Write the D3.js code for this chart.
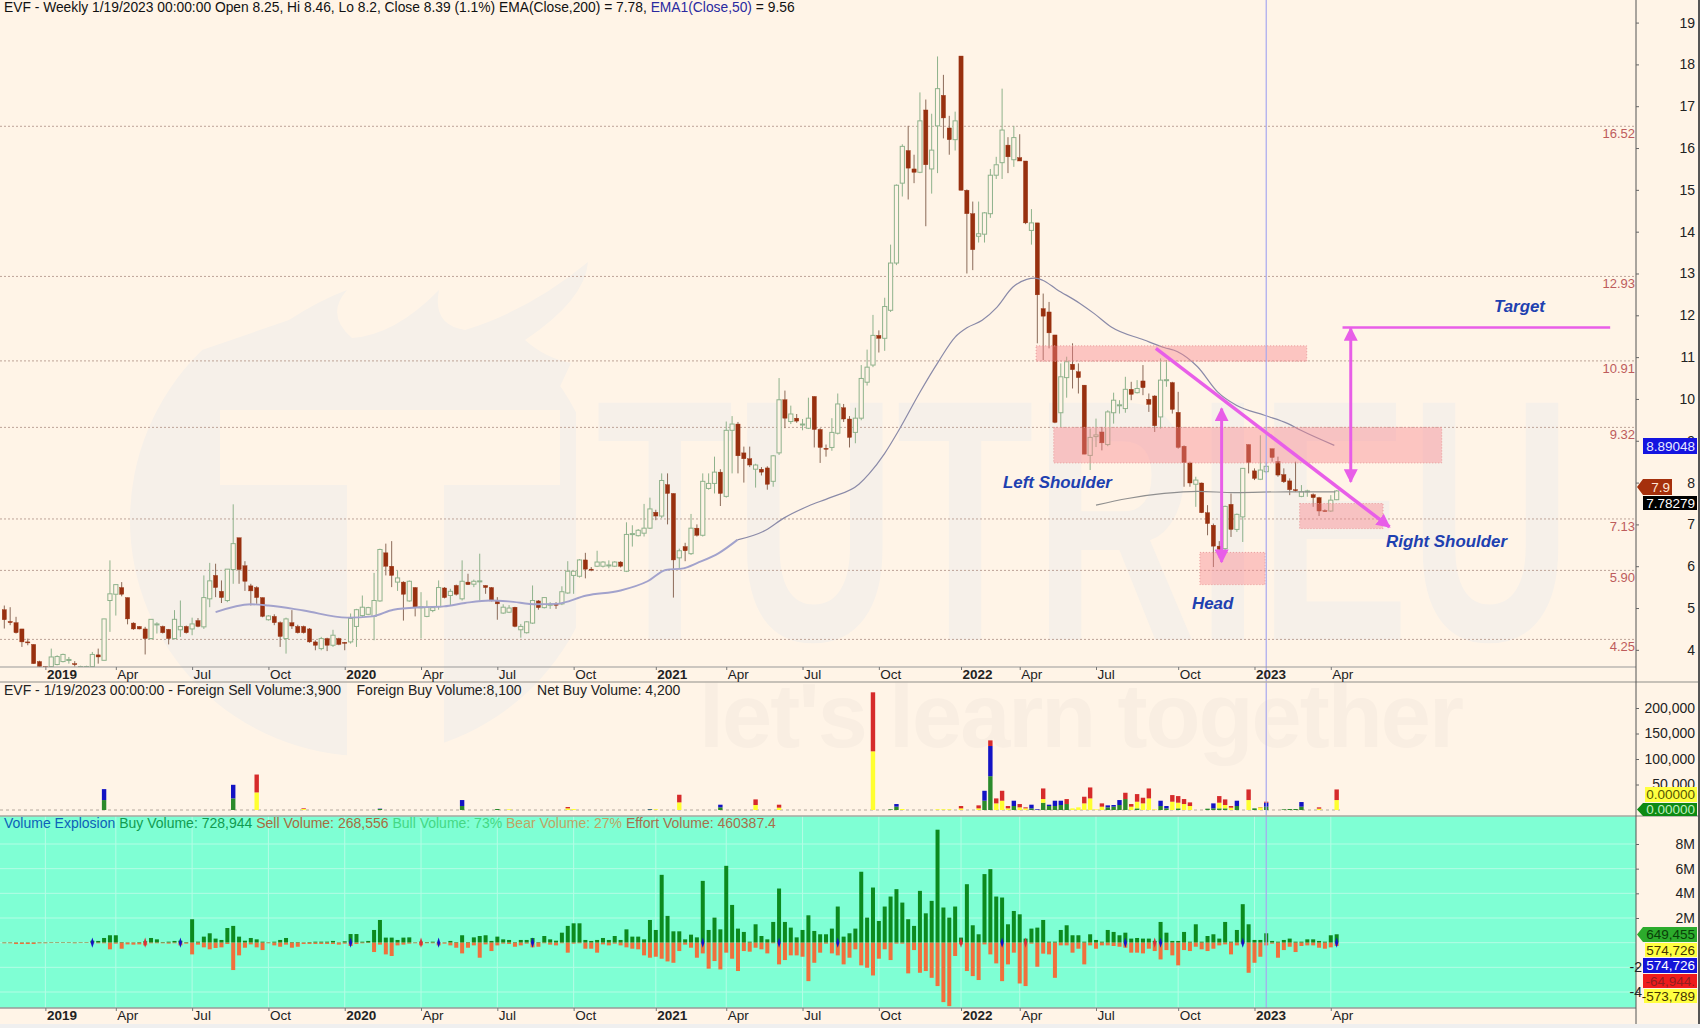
<!DOCTYPE html>
<html>
<head>
<meta charset="utf-8">
<script src="https://cdn.jsdelivr.net/npm/d3@7"></script>
<style>
html,body{margin:0;padding:0;background:#fff4e7;overflow:hidden;}
text{font-family:"Liberation Sans",Arial,sans-serif;}
</style>
</head>
<body>
<div id="chart"></div>
<script>
// weekly candles, index 0 = first week on the chart
var open=[4.96,4.68,4.65,4.5,4.19,4.13,3.72,3.6,3.6,3.65,
3.72,3.76,3.67,3.6,3.6,3.6,3.88,3.75,5.18,5.33,
5.49,5.25,4.64,4.56,4.5,4.27,4.6,4.56,4.49,4.27,
4.48,4.56,4.5,4.7,4.55,5.22,5.78,5.4,5.18,5.92,
6.68,6.01,5.53,5.49,5.25,4.72,4.8,4.65,4.27,4.65,
4.56,4.56,4.5,4.19,4.03,4.27,4.11,4.27,4.18,4.19,
4.56,4.82,4.85,4.8,5.17,6.32,6.0,5.62,5.62,5.17,
5.49,5.02,4.8,4.94,5.03,5.48,5.3,5.54,5.22,5.62,
5.57,5.64,5.54,5.49,5.18,4.88,4.9,5.02,4.48,4.41,
4.64,5.17,5.01,5.08,5.09,5.1,5.36,5.78,5.76,6.15,
5.93,6.0,6.0,6.02,6.0,6.1,5.88,6.77,6.73,6.79,
6.91,7.29,7.2,7.95,7.74,6.2,6.47,6.3,6.91,6.74,
7.86,7.98,8.25,7.67,9.25,9.4,8.71,8.57,8.32,8.32,
8.35,8.03,8.71,9.98,9.46,9.54,9.39,9.3,10.06,9.27,
8.82,8.84,9.18,9.79,9.52,9.2,9.54,10.4,10.81,11.52,
11.45,12.12,13.25,15.16,15.94,15.5,15.42,16.91,15.5,16.53,
17.26,16.48,16.2,18.2,14.99,14.43,13.89,13.94,14.43,15.35,
15.65,16.07,15.72,15.77,15.69,14.03,14.21,12.16,12.08,11.53,
9.67,10.51,10.83,10.65,10.33,8.65,9.1,9.21,8.91,9.67,
9.84,9.77,10.23,10.15,10.43,9.99,10.07,9.57,10.44,10.39,
9.68,8.87,8.47,7.96,7.99,7.28,6.98,6.48,6.42,7.48,
6.88,7.18,8.91,8.28,8.08,8.26,8.81,8.5,8.19,8.04,
7.83,7.67,7.8,7.71,7.64,7.33,7.32,7.59];
var close=[4.72,4.65,4.41,4.19,4.18,3.67,3.6,3.57,3.83,3.84,
3.89,3.77,3.66,3.6,3.6,3.89,3.83,4.74,5.34,5.56,
5.33,4.74,4.5,4.5,4.27,4.73,4.62,4.41,4.27,4.73,
4.56,4.41,4.62,4.56,5.25,5.65,5.49,5.25,5.93,6.54,
5.92,5.64,5.41,5.25,4.8,4.81,4.65,4.32,4.74,4.57,
4.41,4.41,4.19,4.11,4.27,4.11,4.35,4.13,4.17,4.75,
4.96,5.02,5.01,5.18,6.4,6.0,5.78,5.72,5.33,5.64,
5.01,5.03,5.02,5.01,5.49,5.25,5.4,5.33,5.64,5.56,
5.64,5.65,5.49,5.17,5.1,5.02,5.0,4.56,4.56,4.67,
5.18,5.01,5.25,5.09,5.08,5.39,5.88,5.88,6.15,5.93,
5.92,6.1,6.1,6.03,6.1,6.0,6.76,6.78,6.86,6.91,
7.37,7.2,8.05,7.74,6.15,6.37,6.37,6.91,6.74,8.03,
7.98,8.25,7.74,9.25,9.4,8.64,8.57,8.42,8.42,8.25,
7.96,8.64,9.98,9.54,9.64,9.47,9.4,9.54,9.27,8.84,
8.81,9.2,9.88,9.52,9.08,9.54,10.49,10.76,11.52,11.45,
12.21,13.25,15.11,16.04,15.52,15.42,16.65,15.6,15.95,17.42,
16.72,16.2,16.65,14.99,14.43,13.57,13.95,14.45,15.35,15.6,
16.43,15.79,16.25,15.69,14.21,14.21,12.49,11.98,11.58,9.44,
10.53,10.89,10.7,10.51,8.68,9.08,9.14,8.95,9.69,9.97,
9.86,10.23,10.11,10.25,10.27,9.87,9.36,10.45,10.46,9.75,
8.84,8.48,7.99,8.06,7.28,7.02,6.48,6.4,7.43,6.88,
7.24,8.34,8.48,8.1,8.3,8.39,8.6,8.18,8.02,7.83,
7.81,7.78,7.8,7.64,7.32,7.31,7.58,7.8];
var high=[5.06,5.02,4.79,4.5,4.27,4.13,3.74,3.6,4.03,3.87,
3.91,3.83,3.73,3.62,3.62,3.95,4.03,4.74,6.14,5.56,
5.62,5.25,4.66,4.57,4.55,4.73,4.66,4.58,4.5,4.95,
5.18,4.58,4.77,4.76,5.78,6.08,6.06,5.66,5.93,7.48,
6.68,6.12,5.58,5.52,5.25,4.83,4.85,4.68,4.77,4.95,
4.6,4.58,4.52,4.23,4.31,4.29,4.48,4.29,4.19,4.87,
4.98,5.3,5.03,5.84,6.42,6.54,6.6,5.9,5.64,5.66,
5.5,5.38,5.18,5.03,5.66,5.5,5.46,5.56,6.14,5.82,
5.68,6.3,5.54,5.5,5.26,5.09,5.07,5.03,4.62,4.69,
5.54,5.19,5.26,5.14,5.14,5.52,6.12,5.88,6.17,6.32,
5.98,6.37,6.12,6.14,6.12,6.12,7.05,6.98,6.89,7.49,
7.64,7.35,8.22,8.22,7.74,6.42,6.56,7.25,7.0,8.22,
8.22,8.62,8.32,9.46,9.59,9.45,8.86,8.86,8.45,8.37,
8.39,8.66,10.5,10.2,9.84,9.64,9.52,10.03,10.06,9.3,
8.91,9.54,10.13,9.88,9.59,9.79,10.81,11.18,12.01,11.64,
12.42,13.69,15.13,16.09,16.53,15.84,17.33,17.16,16.82,18.19,
17.75,16.77,16.87,18.2,15.01,14.72,14.72,14.47,15.5,15.79,
17.42,16.26,16.53,16.33,15.69,14.54,14.21,12.52,12.32,11.53,
10.85,11.01,11.33,10.85,10.33,9.29,9.53,9.33,9.73,10.15,
9.97,10.53,10.41,10.45,10.81,10.13,10.09,10.97,10.93,10.41,
10.17,8.89,8.5,8.14,8.0,7.46,7.02,6.6,7.45,7.74,
7.26,8.34,8.91,8.34,9.13,8.5,8.81,8.62,8.34,8.1,
8.5,7.94,7.83,7.74,7.66,7.36,7.7,7.82];
var low=[4.51,4.59,4.39,4.07,4.11,3.67,3.58,3.56,3.6,3.63,
3.7,3.67,3.6,3.58,3.58,3.6,3.67,3.75,4.43,4.82,
5.28,4.61,4.48,4.49,3.89,4.25,4.39,4.39,4.13,4.25,
4.31,4.39,4.35,4.54,4.5,5.02,5.26,5.12,5.14,5.58,
5.58,5.41,5.06,5.1,4.78,4.7,4.59,4.07,3.91,4.5,
4.39,4.39,4.17,3.99,3.99,3.97,4.07,4.11,3.99,4.15,
4.07,4.77,4.83,4.23,5.15,5.78,5.5,5.41,4.7,5.15,
4.8,4.27,4.78,4.9,4.96,5.23,5.06,5.3,5.18,5.55,
5.5,5.18,5.34,5.16,4.72,4.86,4.88,4.54,4.29,4.39,
4.62,4.96,4.99,4.98,4.98,5.07,5.34,5.34,5.73,5.71,
5.88,5.98,5.97,5.95,5.98,5.97,5.86,6.47,6.71,6.71,
6.89,7.1,7.15,7.0,5.25,5.93,6.12,6.27,6.71,6.71,
7.83,7.74,7.44,7.64,8.22,8.22,8.0,8.37,7.88,8.17,
7.83,7.9,8.66,9.3,9.4,9.43,9.25,9.28,8.84,8.47,
8.62,8.76,9.15,9.45,8.84,8.94,9.49,10.32,10.76,11.11,
11.15,12.08,13.2,14.84,14.77,15.16,15.4,14.13,14.91,15.4,
16.23,15.84,15.94,14.99,13.0,13.08,13.74,13.74,14.33,15.26,
15.26,15.4,15.55,15.69,14.18,13.69,11.33,10.93,11.21,9.42,
9.33,10.03,10.25,10.13,8.68,8.3,8.85,8.77,8.87,9.41,
9.65,9.67,9.97,10.13,10.09,9.69,9.21,9.29,10.29,9.65,
8.81,7.9,7.9,7.42,7.27,6.74,5.98,6.2,6.3,6.7,
6.82,6.58,8.22,8.06,8.06,8.22,8.5,8.14,7.99,7.7,
7.78,7.65,7.66,7.42,7.2,7.3,7.3,7.58];

var ema50Weeks=[36,42,45,51,58.4,62.7,66.3,71,74.9,78.5,82.8,85.9,90.7,94,99.2,105,109.6,112.7,115.7,118.1,121.8,124.9,129.7,132.8,137,140.7,145.6,147.4,150,152.6,156,159.1,162,164,166.6,169.1,171.8,174.2,175.6,176.9,179.3,183.2,185.7,188.6,194.2,197.6,199.9,203.3,206.7,209.9,214.7,218.7,220.9,226.6];
var ema50Values=[4.9,5.09,5.06,4.94,4.77,4.8,4.96,5.02,5.04,5.12,5.18,5.16,5.09,5.1,5.3,5.42,5.64,5.91,5.95,6.08,6.32,6.63,6.86,7.15,7.44,7.64,7.96,8.22,8.7,9.3,10.16,10.88,11.48,11.7,11.88,12.19,12.67,12.86,12.89,12.84,12.62,12.29,12.04,11.72,11.41,11.23,11.13,10.77,10.17,9.85,9.61,9.41,9.25,8.89];
var ema200Weeks=[186,191.4,197.6,203.3,209.6,218.7,226.8];
var ema200Values=[7.46,7.62,7.74,7.79,7.76,7.78,7.78];

var priceTicks=[4,5,6,7,8,9,10,11,12,13,14,15,16,17,18,19];
var fibLevels=[16.52,12.93,10.91,9.32,7.13,5.9,4.25];

var monthLabels=["2019","Apr","Jul","Oct","2020","Apr","Jul","Oct","2021","Apr","Jul","Oct","2022","Apr","Jul","Oct","2023","Apr"];
var monthWeeks=[7,19,32,45,58,71,84,97,111,123,136,149,163,173,186,200,213,226];

// foreign volume, only weeks that traded
var foreignWeeks=[17,39,43,51,64,78,84,86,96,97,
110,111,115,122,128,132,148,151,152,153,
159,160,161,163,166,167,168,169,170,171,
172,173,174,175,176,177,178,179,180,181,
182,183,184,185,186,187,188,189,190,191,
192,193,194,195,196,197,198,199,200,201,
202,205,206,207,208,209,210,212,213,214,
215,218,219,220,221,224,227];
var foreignGreen=[19500,22750,0,0,1950,7800,1950,0,0,0,
1300,0,0,5200,0,0,0,1300,6500,0,
0,0,0,0,0,18200,66300,0,0,0,
7800,0,0,3250,0,14300,7800,7800,9750,11700,
0,0,0,0,0,0,5200,6500,9750,21450,
0,3250,0,0,0,7800,3250,0,3250,0,
0,2600,3250,3250,3250,0,7800,0,3250,0,
6500,1300,1950,1950,6500,0,0];
var foreignYellow=[0,0,34450,1950,0,0,0,1300,3250,1950,
0,1300,14950,0,9750,4550,115050,0,0,1950,
1300,1300,1300,3250,3250,0,0,13000,18200,3250,
0,5200,3250,0,0,7150,0,0,0,0,
3250,5200,13000,22750,1300,6500,0,0,0,0,
6500,13000,13000,22750,1300,0,0,16250,11050,11700,
7800,0,0,11050,6500,4550,0,19500,0,5200,
0,0,0,0,0,2600,19500];
var foreignBlue=[21450,26650,0,0,650,11700,0,0,0,0,
650,0,0,5200,0,0,0,0,5200,0,
0,0,0,0,0,19500,59150,0,0,0,
10400,0,0,7150,1300,0,2600,10400,8450,0,
0,0,0,0,0,0,3900,3250,9750,0,
0,0,0,0,0,10400,4550,0,0,0,
0,0,9750,0,0,0,10400,0,0,0,
7800,0,0,0,9100,0,0];
var foreignRed=[0,0,35100,1300,0,0,0,0,2600,0,
0,0,14950,0,11050,5850,115700,0,0,0,
0,0,0,4550,5850,0,11050,9750,19500,4550,
0,6500,1950,0,0,20800,0,0,0,9750,
0,0,13000,21450,0,6500,0,0,0,12350,
5200,14950,11050,19500,0,0,0,13000,13000,9750,
7150,0,0,13000,11050,3250,0,20800,0,650,
1950,0,0,0,0,2600,20800];
var foreignTicks=[50000,100000,150000,200000];

// volume explosion, millions of shares, one per week
var buyVolume=[.03,.03,.03,.03,.03,.03,.03,.03,.03,.03,.03,.03,.03,.03,.03,
.16,.14,.38,.6,.6,.05,.03,.03,.05,.11,
.38,.27,.05,.08,.14,.16,.05,1.9,.08,.49,
.76,.33,.22,1.19,1.36,.49,.16,.38,.27,.08,
.03,.08,.22,.38,.05,.05,.03,.05,.08,.08,
.08,.14,.03,.11,.7,.7,.08,.14,1.03,1.84,
.41,.41,.22,.41,.43,.03,.08,.05,.08,.03,
.03,.14,.05,.6,.05,.43,.54,.6,.14,.49,
.27,.22,.05,.22,.22,.38,.05,.54,.27,.16,
.81,1.36,1.57,1.57,.22,.14,.22,.38,.22,.54,
.22,1.08,.49,.49,.27,1.84,1.03,5.5,2.17,.92,
.92,.27,.65,.43,5.01,1.03,2.03,1.08,6.23,3.06,
1.14,.87,.08,1.49,.54,.27,1.68,4.39,1.68,1.22,
.43,1.03,2.22,.95,.68,.68,1.14,2.93,.49,.76,
1.14,5.75,2.03,4.47,1.76,2.93,3.74,4.34,3.25,1.9,
1.36,4.2,2.38,3.39,9.16,2.85,2.03,2.93,.41,4.74,
1.41,.68,5.56,5.96,3.74,3.66,1.49,2.57,2.3,.33,
1.14,1.22,1.84,.08,.08,1.03,1.41,.6,.6,.08,
.68,.22,.08,1.03,.87,.6,.81,.33,.38,.33,
.33,.14,1.68,.81,.14,.14,.87,.08,1.49,.08,
.54,.68,.33,1.68,.08,1.03,3.12,1.49,.22,.22,
.76,.14,.08,.22,.33,.08,.08,.27,.27,.14,
.08,.6,.68];
var sellVolume=[.05,.05,.11,.11,.11,.11,.05,.05,.03,.03,.03,.03,.05,.03,.03,
.05,.05,.05,.54,.08,.49,.14,.16,.14,.22,
.05,.05,.05,.08,.05,.22,.08,.95,.16,.38,
.54,.43,.38,.11,2.22,1.03,.41,.14,.38,.6,
.05,.22,.33,.16,.41,.33,.11,.11,.11,.11,
.11,.11,.16,.08,.27,.11,.05,.03,.76,.16,
.95,1.08,.22,.16,.08,.05,.22,.05,.05,.22,
.08,.22,.41,.87,.41,.22,1.22,.14,.68,.22,
.08,.11,.33,.22,.08,.38,.33,.05,.16,.22,
.05,.81,.08,.05,.49,.49,.81,.14,.22,.08,
.22,.38,.49,.54,1.03,1.22,1.14,1.3,1.52,1.63,
.68,.16,.41,1.22,.87,2.11,1.49,2.17,.81,1.3,
2.3,.68,.73,.41,.54,.87,.05,1.76,1.41,1.03,
1.03,1.14,3.12,1.63,.81,.08,.87,1.03,1.76,1.22,
.54,1.84,2.03,2.66,1.3,.54,1.41,.08,.08,2.49,
.6,2.44,2.3,2.85,3.52,4.82,5.15,1.08,.14,2.3,
2.71,3.03,.14,.95,1.68,3.12,1.76,.81,3.31,3.52,
.08,1.95,.89,.95,2.85,.22,.22,.81,.49,1.76,
.22,.49,.22,.22,.27,.33,.41,.81,.81,.87,
.49,.68,1.36,.6,1.03,1.84,.6,.68,.33,.54,
.68,.49,.22,.14,.95,.22,.08,2.44,1.63,1.14,
.22,.08,1.22,.6,.33,.76,.27,.22,.22,.41,
.49,.38,.27];
var blueMarkWeeks=[15,30,59,74,90,119,132,142,170,191,197,211,227];
var redMarkWeeks=[24,71,163,174,196];
var volumeTicks=[-4,-2,2,4,6,8];

// drawn zones and arrows, in week / price
var zoneStart=[175.8,178.8,203.7,220.7];
var zoneEnd=[221.9,244.9,214.8,234.9];
var zoneTop=[11.27,9.32,6.33,7.5];
var zoneBottom=[10.9,8.47,5.56,6.9];

var cursorWeek=215;
var width=1700,height=1028;
var axisX=1636;
var bg="#fff4e7";

var svg=d3.select("#chart").append("svg")
	.attr("width",width)
	.attr("height",height)
	.style("display","block");

svg.append("rect").attr("width",width).attr("height",height).attr("fill",bg);

// scales
var x=d3.scaleLinear().domain([0,278]).range([4.3,axisX]);
var y=d3.scaleLinear().domain([3.59,19.54]).range([667,0]);
var yForeign=d3.scaleLinear().domain([0,200000]).range([810,708]);
var yVolume=d3.scaleLinear().domain([-4,8]).range([992,844]);

// watermark: flame logo and big letters
var mark=svg.append("g");
var markFill="#f6f0e9";
svg.append("clipPath").attr("id","logoClip").append("rect")
	.attr("x",0).attr("y",350).attr("width",576).attr("height",450);
mark.append("circle").attr("cx",366).attr("cy",520).attr("r",236)
	.attr("fill",markFill).attr("clip-path","url(#logoClip)");
mark.append("path")
	.attr("d","M202,350 L289,320 Q320,300 347,290 Q325,315 352,338 Q395,335 439,290 Q432,325 465,330 Q530,310 588,262 Q585,300 525,340 Q545,358 571,363 L548,412 L220,412 Z")
	.attr("fill",markFill);
mark.append("rect").attr("x",220).attr("y",410).attr("width",340).attr("height",75).attr("fill",bg);
mark.append("rect").attr("x",347).attr("y",485).attr("width",97).attr("height",290).attr("fill",bg);
var bigText=mark.append("text")
	.attr("font-size",345).attr("font-weight","bold")
	.attr("fill","#f6f0e9")
	.text("TUTRIEU");
bigText.attr("transform","translate(596,640) scale("+(976/bigText.node().getComputedTextLength())+",1)");
mark.append("text")
	.attr("x",699).attr("y",747)
	.attr("font-size",90).attr("font-weight","bold")
	.style("font-family","'Liberation Sans Narrow','Liberation Sans',sans-serif")
	.attr("textLength",765).attr("lengthAdjust","spacing")
	.attr("fill","#f9eee2")
	.text("let's learn together");

// volume panel background
svg.append("rect").attr("x",0).attr("y",816).attr("width",axisX).attr("height",192).attr("fill","#7fffd4");

// dotted price levels
svg.append("g").selectAll("line").data(fibLevels).join("line")
	.attr("x1",0).attr("x2",axisX)
	.attr("y1",function(d){return y(d);}).attr("y2",function(d){return y(d);})
	.attr("stroke","#bda398").attr("stroke-width",1).attr("stroke-dasharray","2,2");
svg.append("g").selectAll("text").data(fibLevels).join("text")
	.attr("x",axisX-1).attr("y",function(d){return y(d)+12;})
	.attr("text-anchor","end").attr("font-size",13).attr("fill","#bd5c5c")
	.text(function(d){return d3.format(".2f")(d);});

// teal panel grid
var grid=svg.append("g").attr("stroke","#b4fde5").attr("stroke-width",1);
grid.selectAll(".v").data(monthWeeks).join("line").attr("class","v")
	.attr("x1",function(d){return x(d);}).attr("x2",function(d){return x(d);})
	.attr("y1",816).attr("y2",1008);
grid.selectAll(".h").data([-4,-2,0,2,4,6,8]).join("line").attr("class","h")
	.attr("x1",0).attr("x2",axisX)
	.attr("y1",function(d){return yVolume(d);}).attr("y2",function(d){return yVolume(d);});

// candles
var candles=d3.range(open.length).map(function(i){
	return {week:i,open:open[i],close:close[i],high:high[i],low:low[i]};
});
svg.append("clipPath").attr("id","mainClip").append("rect")
	.attr("x",0).attr("y",0).attr("width",axisX).attr("height",667);
var candleGroup=svg.append("g").attr("clip-path","url(#mainClip)");
var upColor="#8fb28c",downColor="#98300f";

candleGroup.selectAll(".wick").data(candles).join("line").attr("class","wick")
	.attr("x1",function(d){return x(d.week);}).attr("x2",function(d){return x(d.week);})
	.attr("y1",function(d){return y(d.high);}).attr("y2",function(d){return y(d.low);})
	.attr("stroke",function(d){return d.close>=d.open?upColor:"#8b6a58";})
	.attr("stroke-width",1);
candleGroup.selectAll(".body").data(candles).join("rect").attr("class","body")
	.attr("x",function(d){return x(d.week)-2.1;})
	.attr("width",4.2)
	.attr("y",function(d){return y(Math.max(d.open,d.close));})
	.attr("height",function(d){return Math.max(1,Math.abs(y(d.open)-y(d.close)));})
	.attr("fill",function(d){return d.close>=d.open?bg:downColor;})
	.attr("stroke",function(d){return d.close>=d.open?upColor:downColor;})
	.attr("stroke-width",function(d){return d.close>=d.open?1:0.4;});

// EMA lines, the older part of the 50 week line is drawn paler and thicker
var line=d3.line()
	.x(function(d){return x(d[0]);})
	.y(function(d){return y(d[1]);})
	.curve(d3.curveMonotoneX);
var ema50=d3.zip(ema50Weeks,ema50Values);
svg.append("path").datum(ema50.filter(function(d){return d[0]<=124.9;}))
	.attr("d",line).attr("fill","none").attr("stroke","#a2a2cc").attr("stroke-width",1.9);
svg.append("path").datum(ema50.filter(function(d){return d[0]>=124.9;}))
	.attr("d",line).attr("fill","none").attr("stroke","#8a8aa8").attr("stroke-width",1.2);
svg.append("path").datum(d3.zip(ema200Weeks,ema200Values))
	.attr("d",line).attr("fill","none").attr("stroke","#8f8f8f").attr("stroke-width",1.2);

// pink zones
svg.append("g").selectAll("rect").data(d3.range(zoneStart.length)).join("rect")
	.attr("x",function(i){return x(zoneStart[i]);})
	.attr("width",function(i){return x(zoneEnd[i])-x(zoneStart[i]);})
	.attr("y",function(i){return y(zoneTop[i]);})
	.attr("height",function(i){return y(zoneBottom[i])-y(zoneTop[i]);})
	.attr("fill","#f8838c").attr("fill-opacity",.42)
	.attr("stroke","#e79a9a").attr("stroke-width",1).attr("stroke-dasharray","1,2");

// foreign volume stacks
var foreignRows=foreignWeeks.map(function(w,i){
	return {week:w,green:foreignGreen[i],yellow:foreignYellow[i],blue:foreignBlue[i],red:foreignRed[i]};
});
var foreignColor={green:"#2b8a2b",yellow:"#ffff30",blue:"#1313c4",red:"#d62b2b"};
var foreignStack=d3.stack().keys(["green","yellow","blue","red"])(foreignRows);

svg.append("line").attr("x1",0).attr("x2",1340).attr("y1",yForeign(0)).attr("y2",yForeign(0))
	.attr("stroke","#b5a99c").attr("stroke-width",1).attr("stroke-dasharray","3,3");
svg.append("g").selectAll("g").data(foreignStack).join("g")
	.attr("fill",function(s){return foreignColor[s.key];})
	.selectAll("rect").data(function(s){return s;}).join("rect")
	.attr("x",function(d){return x(d.data.week)-2.2;})
	.attr("width",4.4)
	.attr("y",function(d){return yForeign(d[1]);})
	.attr("height",function(d){return yForeign(d[0])-yForeign(d[1]);});

// buy and sell bars
var barRows=d3.range(buyVolume.length);
svg.append("g").selectAll("rect").data(barRows).join("rect")
	.attr("x",function(i){return x(i)-2;})
	.attr("width",4)
	.attr("y",function(i){return yVolume(buyVolume[i]);})
	.attr("height",function(i){return yVolume(0)-yVolume(buyVolume[i]);})
	.attr("fill","#0c8a1e");
svg.append("g").selectAll("rect").data(barRows).join("rect")
	.attr("x",function(i){return x(i)-2;})
	.attr("width",4)
	.attr("y",yVolume(0))
	.attr("height",function(i){return yVolume(-sellVolume[i])-yVolume(0);})
	.attr("fill","#f0703c");

// diamonds on the zero line
var diamond=d3.symbol().type(d3.symbolDiamond).size(30);
function drawMarks(weeks,color){
	svg.append("g").selectAll("path").data(weeks).join("path")
		.attr("d",diamond)
		.attr("transform",function(d){return "translate("+x(d)+","+yVolume(0)+") scale(.55,1)";})
		.attr("fill",color);
}
drawMarks(blueMarkWeeks,"#1212c8");
drawMarks(redMarkWeeks,"#d8303a");

// cursor line
svg.append("line")
	.attr("x1",x(cursorWeek)).attr("x2",x(cursorWeek)).attr("y1",0).attr("y2",1008)
	.attr("stroke","#a8a8ee").attr("stroke-width",1.2);

// magenta arrows
var pink="#e85ee8";
var defs=svg.append("defs");
defs.append("marker").attr("id","head")
	.attr("viewBox","0 0 10 10").attr("refX",9).attr("refY",5)
	.attr("markerWidth",14).attr("markerHeight",14).attr("markerUnits","userSpaceOnUse")
	.attr("orient","auto-start-reverse")
	.append("path").attr("d","M0,0 L10,5 L0,10 Z").attr("fill",pink);
function arrow(w1,p1,w2,p2,both,w){
	var a=svg.append("line")
		.attr("x1",x(w1)).attr("y1",y(p1)).attr("x2",x(w2)).attr("y2",y(p2))
		.attr("stroke",pink).attr("stroke-width",w);
	if(both) a.attr("marker-start","url(#head)");
	a.attr("marker-end","url(#head)");
}
arrow(196.2,11.21,236,6.94,false,3.5);
arrow(207.4,9.77,207.4,6.1,true,3);
arrow(229.4,11.69,229.4,8.02,true,3);
svg.append("line")
	.attr("x1",x(228)).attr("x2",x(273.6)).attr("y1",y(11.71)).attr("y2",y(11.71))
	.attr("stroke",pink).attr("stroke-width",2.5);

// pattern labels
function note(px,py,s){
	svg.append("text").attr("x",px).attr("y",py)
		.attr("font-size",16.9).attr("font-weight","bold").attr("font-style","italic")
		.attr("fill","#2040b0").text(s);
}
note(1003,488,"Left Shoulder");
note(1192,609,"Head");
note(1386,547,"Right Shoulder");
note(1494,312,"Target");

// panel rules
function rule(py,x2,color,w){
	svg.append("line").attr("x1",0).attr("x2",x2).attr("y1",py).attr("y2",py)
		.attr("stroke",color).attr("stroke-width",w);
}
rule(667,axisX,"#999999",1);
rule(682,1698,"#b5b0a8",1.5);
rule(816,1698,"#a9a9a0",1.5);
rule(1008,axisX,"#9a9a9a",1.5);

// time axes
function timeAxis(py){
	var g=svg.append("g").attr("transform","translate(0,"+py+")")
		.call(d3.axisBottom(x).tickValues(monthWeeks)
			.tickFormat(function(d,i){return monthLabels[i];})
			.tickSize(3).tickPadding(1));
	g.select(".domain").remove();
	g.selectAll("line").attr("stroke","#777");
	g.selectAll("text")
		.attr("text-anchor","start").attr("x",1).attr("dy","0.6em")
		.attr("font-family","Liberation Sans").attr("font-size",13.5)
		.attr("font-weight",function(d,i){return /^20/.test(monthLabels[i])?"bold":"normal";})
		.attr("fill","#222");
}
timeAxis(667);
timeAxis(1008);

// right side axes
svg.append("line").attr("x1",axisX).attr("x2",axisX).attr("y1",0).attr("y2",1024).attr("stroke","#555").attr("stroke-width",1);
svg.append("rect").attr("x",1698).attr("y",0).attr("width",2).attr("height",1028).attr("fill","#555");

function rightAxis(scale,ticks,fmt){
	var g=svg.append("g").attr("transform","translate("+axisX+",0)")
		.call(d3.axisRight(scale).tickValues(ticks).tickFormat(fmt).tickSize(3));
	g.select(".domain").remove();
	g.selectAll("line").attr("stroke","#666");
	g.selectAll("text")
		.attr("text-anchor","end").attr("x",59)
		.attr("font-family","Liberation Sans").attr("font-size",14)
		.attr("fill","#222");
	return g;
}
rightAxis(y,priceTicks,function(d){return d;});
rightAxis(yForeign,foreignTicks,d3.format(","));
var volAxis=rightAxis(yVolume,volumeTicks,function(d){return d>0?d+"M":d;});
volAxis.selectAll("text").attr("x",function(d){return d<0?6:59;});

// value tags
function tag(px,py,w,h,fill,color,s,pointed){
	var d=pointed?"M"+(px-6)+","+(py+h/2)+" L"+px+","+py+" H"+(px+w)+" V"+(py+h)+" H"+px+" Z"
		:"M"+px+","+py+" H"+(px+w)+" V"+(py+h)+" H"+px+" Z";
	svg.append("path").attr("d",d).attr("fill",fill);
	svg.append("text").attr("x",px+w-2).attr("y",py+h/2+4.5)
		.attr("text-anchor","end").attr("font-size",13.5).attr("fill",color).text(s);
}
tag(1643,438,54,16,"#1414e0","#e8e8ff","8.89048",false);
tag(1643,479,29,16,"#a5300c","#ffe8d8","7.9",true);
tag(1643,496,54,14,"#000000","#ffffff","7.78279",false);
tag(1645,787,52,15,"#ffff40","#555500","0.00000",false);
tag(1643,803,54,13,"#0d8a14","#bff0bf","0.00000",true);
tag(1643,927,54,15,"#2cab2c","#084008","649,455",true);
tag(1645,943,52,14,"#ffff40","#443300","574,726",false);
tag(1643,958,54,15,"#1414d8","#ffffff","574,726",false);
tag(1643,974,54,14,"#ee1c1c","#902020","-64,944.",false);
tag(1644,989,53,14,"#ffff40","#443300","-573,789",false);

// legends
function legend(py,size,parts){
	var t=svg.append("text").attr("x",4).attr("y",py).attr("font-size",size);
	parts.forEach(function(p){
		t.append("tspan").attr("fill",p[1]).attr("xml:space","preserve").text(p[0]);
	});
}
legend(12,13.82,[["EVF - Weekly 1/19/2023 00:00:00 Open 8.25, Hi 8.46, Lo 8.2, Close 8.39 (1.1%) EMA(Close,200) = 7.78, ","#111"],["EMA1(Close,50)","#2a2aa0"],[" = 9.56","#111"]]);
legend(695,14,[["EVF - 1/19/2023 00:00:00 - Foreign Sell Volume:3,900\u00a0\u00a0\u00a0\u00a0Foreign Buy Volume:8,100\u00a0\u00a0\u00a0\u00a0Net Buy Volume: 4,200","#222"]]);
legend(828,14,[["Volume Explosion ","#0b62b8"],["Buy Volume: 728,944 ","#109c50"],["Sell Volume: 268,556 ","#a86c40"],["Bull Volume: 73% ","#44d884"],["Bear Volume: 27% ","#c0a464"],["Effort Volume: 460387.4","#a8704c"]]);

// bottom strip
svg.append("rect").attr("x",0).attr("y",1024).attr("width",width).attr("height",4).attr("fill","#efefef");
</script>
</body>
</html>
